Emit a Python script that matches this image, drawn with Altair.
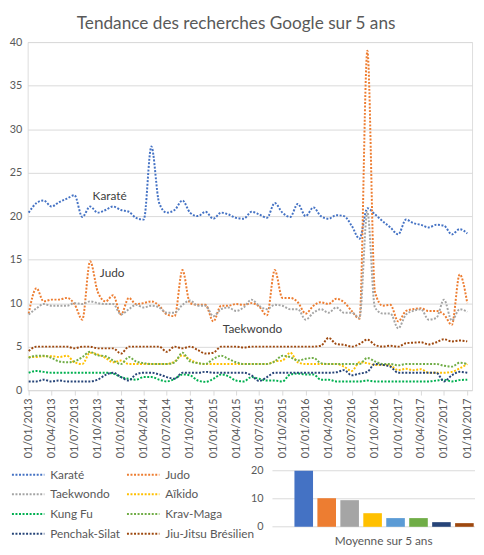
import altair as alt
import pandas as pd

# ---------------- data ----------------
SERIES = ["Karaté", "Judo", "Taekwondo", "Aïkido", "Kung Fu", "Krav-Maga",
          "Penchak-Silat", "Jiu-Jitsu Brésilien"]
COLORS = ["#4472C4", "#ED7D31", "#A5A5A5", "#FFC000", "#00B050", "#70AD47",
          "#264478", "#9E480E"]

# monthly points, January 2013 .. October 2017 (58 months)
DATES = [f"{2013 + m // 12}/{m % 12 + 1:02d}/01" for m in range(58)]

KARATE = [20.4, 21.5, 21.8, 21.1, 21.6, 22.0, 22.4, 19.9, 21.1, 20.4, 20.7, 21.1,
          20.7, 20.5, 19.8, 19.6, 28.0, 21.5, 20.4, 20.7, 21.8, 20.4, 20.0, 20.5,
          19.7, 20.4, 20.2, 19.8, 19.7, 20.5, 20.2, 19.8, 21.5, 20.4, 19.9, 21.4,
          20.0, 21.0, 20.0, 19.7, 20.1, 20.0, 18.9, 17.4, 20.9, 20.2, 19.4, 18.7,
          17.9, 19.6, 19.2, 19.0, 18.7, 19.0, 18.9, 17.9, 18.5, 18.0]
JUDO = [8.8, 11.7, 10.2, 10.4, 10.4, 10.6, 9.9, 8.1, 14.8, 11.3, 10.2, 10.9,
        8.7, 10.6, 9.9, 10.0, 10.2, 9.7, 8.7, 8.5, 13.8, 10.0, 9.8, 9.8,
        7.9, 9.7, 9.7, 9.9, 9.8, 10.0, 9.6, 8.6, 13.8, 10.6, 10.6, 10.1,
        8.8, 9.7, 10.1, 9.9, 10.5, 10.1, 9.1, 8.2, 39.0, 11.3, 9.7, 9.8,
        7.9, 9.1, 9.3, 9.4, 9.1, 9.1, 8.7, 7.5, 13.3, 10.0]
TAEKWONDO = [8.7, 9.4, 9.9, 9.7, 9.7, 9.7, 10.0, 9.9, 10.2, 10.0, 9.9, 9.9,
             8.7, 9.3, 9.8, 9.5, 9.7, 9.5, 8.9, 8.9, 9.8, 10.3, 9.7, 9.7,
             8.5, 9.3, 9.5, 9.1, 9.5, 10.4, 9.7, 9.3, 9.8, 9.7, 9.3, 9.3,
             8.1, 8.9, 9.3, 8.9, 9.5, 8.9, 8.9, 8.3, 20.5, 9.5, 8.8, 8.8,
             7.1, 8.7, 9.1, 9.3, 8.1, 8.3, 10.4, 8.0, 9.3, 9.0]
AIKIDO = [3.8, 3.8, 3.9, 3.9, 3.8, 3.95, 3.2, 3.0, 4.3, 4.1, 3.7, 3.2,
          3.4, 3.0, 3.0, 3.0, 3.0, 3.0, 3.0, 3.3, 4.0, 3.5, 3.1, 3.0,
          3.0, 3.0, 3.0, 3.0, 3.0, 3.0, 3.0, 3.0, 3.3, 3.4, 4.3, 3.2,
          3.0, 3.0, 3.0, 3.0, 3.0, 2.7, 2.2, 3.2, 3.1, 2.9, 2.9, 2.8,
          2.3, 2.45, 2.3, 2.4, 2.0, 2.0, 2.0, 2.1, 2.5, 3.0]
KUNGFU = [2.0, 2.2, 2.1, 2.0, 2.0, 2.0, 2.0, 2.0, 2.0, 2.0, 2.0, 1.9,
          1.5, 1.3, 1.2, 1.5, 1.5, 1.2, 1.0, 1.3, 1.8, 1.7, 1.1, 0.95,
          1.3, 1.8, 1.6, 1.1, 1.0, 1.5, 1.3, 1.1, 1.1, 1.0, 1.8, 1.9,
          1.8, 1.8, 1.2, 1.2, 1.0, 1.0, 1.0, 1.0, 1.1, 1.0, 1.0, 1.0,
          1.0, 1.0, 1.0, 1.0, 1.0, 1.1, 1.2, 1.0, 1.15, 1.2]
KRAVMAGA = [3.7, 3.95, 3.95, 3.7, 3.3, 3.2, 3.3, 3.8, 4.4, 4.0, 3.9, 3.4,
            3.0, 3.8, 3.3, 3.1, 3.0, 3.0, 3.0, 3.2, 4.3, 3.3, 3.1, 3.0,
            3.6, 3.95, 3.6, 3.2, 3.0, 3.0, 3.0, 3.0, 3.3, 3.95, 3.8, 3.4,
            3.6, 3.7, 3.1, 3.0, 3.0, 3.0, 3.0, 3.0, 3.7, 3.3, 3.0, 3.0,
            2.85, 3.0, 3.0, 3.0, 3.0, 3.0, 2.8, 2.7, 3.15, 3.0]
PENCHAK = [1.0, 1.0, 1.2, 1.0, 1.1, 1.0, 1.0, 1.0, 1.0, 1.2, 1.75, 2.0,
           1.5, 1.1, 1.8, 2.0, 2.0, 1.8, 1.5, 1.3, 2.0, 2.0, 2.0, 2.1,
           2.0, 2.0, 2.0, 2.0, 2.0, 1.7, 1.05, 1.5, 2.0, 2.0, 2.0, 2.0,
           2.0, 2.0, 2.0, 2.0, 2.05, 2.3, 1.7, 1.9, 2.1, 3.0, 2.9, 2.7,
           2.0, 2.0, 2.0, 2.0, 2.0, 2.0, 1.0, 1.7, 2.1, 2.0]
JJB = [4.5, 5.0, 5.0, 5.0, 5.0, 5.0, 4.8, 5.0, 5.0, 4.8, 4.8, 4.8,
       4.2, 5.0, 5.0, 5.0, 5.0, 5.0, 4.4, 5.0, 4.8, 5.0, 4.6, 4.2,
       4.3, 5.0, 5.0, 5.0, 4.9, 5.0, 5.0, 5.0, 5.0, 5.0, 5.0, 5.0,
       5.0, 5.0, 5.1, 6.0, 5.3, 5.2, 5.0, 5.3, 5.8, 5.2, 5.0, 5.1,
       5.0, 5.4, 5.45, 5.5, 5.25, 5.5, 5.85, 5.6, 5.7, 5.6]

VALUES = [KARATE, JUDO, TAEKWONDO, AIKIDO, KUNGFU, KRAVMAGA, PENCHAK, JJB]

# series name labels placed in the plot
LABEL_NAMES = ["Karaté", "Judo", "Taekwondo"]
LABEL_DATES = ["2013/11/17", "2013/11/27", "2015/06/05"]
LABEL_VALUES = [22.3, 13.5, 7.0]

Y_TICKS = [0, 5, 10, 15, 20, 25, 30, 35, 40]
# quarterly ticks 01/01/2013 .. 01/10/2017
X_TICK_DATES = [(2013 + q // 4, (q % 4) * 3 + 1) for q in range(20)]

# small "Moyenne sur 5 ans" bar chart
BAR_CATS = ["Karaté", "Judo", "Taekwondo", "Jiu-Jitsu Brésilien", "Aïkido",
            "Krav-Maga", "Penchak-Silat", "Kung Fu"]
BAR_VALUES = [20.0, 10.2, 9.5, 4.85, 3.1, 3.1, 1.65, 1.3]
BAR_COLORS = ["#4472C4", "#ED7D31", "#A5A5A5", "#FFC000", "#5B9BD5", "#70AD47",
              "#264478", "#9E480E"]
BAR_TICKS = [0, 10, 20]
BAR_TITLE = "Moyenne sur 5 ans"

TITLE = "Tendance des recherches Google sur 5 ans"

# ---------------- tables ----------------
rows = []
for name, vals in zip(SERIES, VALUES):
    for d, v in zip(DATES, vals):
        rows.append({"series": name, "date": d, "value": v})
df = pd.DataFrame(rows)
lab_df = pd.DataFrame({"name": LABEL_NAMES, "date": LABEL_DATES, "value": LABEL_VALUES})
leg_df = pd.DataFrame({"series": SERIES,
                       "col": [i % 2 for i in range(len(SERIES))],
                       "row": [i // 2 for i in range(len(SERIES))]})
bar_df = pd.DataFrame({"cat": BAR_CATS, "mean": BAR_VALUES})
btick_df = pd.DataFrame({"tick": BAR_TICKS})
btitle_df = pd.DataFrame({"t": [BAR_TITLE]})

FONT = "Lato"
GRID = "#D9D9D9"
TXT = "#595959"

W, H = 452, 354
DASH = [2, 1.6]

xscale = alt.Scale(domain=[alt.DateTime(year=2012, month=12, date=28),
                           alt.DateTime(year=2017, month=10, date=20)])
yscale = alt.Scale(domain=[0, 40])
cscale = alt.Scale(domain=SERIES, range=COLORS)

x_axis = alt.Axis(values=[alt.DateTime(year=y, month=m, date=1) for y, m in X_TICK_DATES],
                  format="%d/%m/%Y", labelAngle=270, grid=False,
                  domainColor=GRID, tickColor=GRID, tickSize=5,
                  labelPadding=3, labelFont=FONT, labelFontSize=11,
                  labelColor=TXT, labelOverlap=False, title=None)
y_axis = alt.Axis(values=Y_TICKS, grid=True, gridColor=GRID, domain=False,
                  ticks=False, labelPadding=6, labelFont=FONT,
                  labelFontSize=11, labelColor=TXT, title=None)

lines = alt.Chart(df).mark_line(strokeWidth=2, strokeDash=DASH,
                                interpolate="monotone").encode(
    x=alt.X("date:T", scale=xscale, axis=x_axis),
    y=alt.Y("value:Q", scale=yscale, axis=y_axis),
    color=alt.Color("series:N", scale=cscale, legend=None),
    order=alt.Order("date:T"),
)

labels = alt.Chart(lab_df).mark_text(font=FONT, fontSize=12, color="#404040",
                                     align="center", baseline="middle").encode(
    x=alt.X("date:T", scale=xscale, axis=x_axis),
    y=alt.Y("value:Q", scale=yscale, axis=y_axis),
    text="name:N",
)

main = alt.layer(lines, labels)

# legend drawn below the axis
leg_x = alt.Scale(domain=[0, 1], range=[-16, 101])
leg_y = alt.Scale(domain=[0, 3], range=[440, 500])
leg_rule = alt.Chart(leg_df).transform_calculate(
    col_end="datum.col + 33/117"
).mark_rule(strokeWidth=2, strokeDash=DASH).encode(
    x=alt.X("col:Q", scale=leg_x, axis=None),
    x2="col_end:Q",
    y=alt.Y("row:Q", scale=leg_y, axis=None),
    color=alt.Color("series:N", scale=cscale, legend=None),
)
leg_text = alt.Chart(leg_df).mark_text(align="left", baseline="middle", dx=39,
                                       font=FONT, fontSize=12, color=TXT).encode(
    x=alt.X("col:Q", scale=leg_x, axis=None),
    y=alt.Y("row:Q", scale=leg_y, axis=None),
    text="series:N",
)
legend = alt.layer(leg_rule, leg_text)

# bar chart of means
bx = alt.Scale(domain=BAR_CATS, range=[269, 456], paddingInner=0.19, paddingOuter=0.1)
by = alt.Scale(domain=[0, 20], range=[493, 436])
bgrid = alt.Chart(btick_df).mark_rule(color=GRID, strokeWidth=1).encode(
    y=alt.Y("tick:Q", scale=by, axis=None),
    x=alt.value(249), x2=alt.value(455),
)
btext = alt.Chart(btick_df).mark_text(align="right", baseline="middle", font=FONT,
                                      fontSize=11, color=TXT).encode(
    y=alt.Y("tick:Q", scale=by, axis=None),
    x=alt.value(240),
    text="tick:Q",
)
bars = alt.Chart(bar_df).mark_bar().encode(
    x=alt.X("cat:N", scale=bx, axis=None, sort=None),
    y=alt.Y("mean:Q", scale=by, axis=None),
    color=alt.Color("cat:N", scale=alt.Scale(domain=BAR_CATS, range=BAR_COLORS), legend=None),
)
btitle = alt.Chart(btitle_df).mark_text(font=FONT, fontSize=12, color=TXT,
                                        align="center", baseline="middle").encode(
    x=alt.value(362), y=alt.value(508), text="t:N",
)
barchart = alt.layer(bgrid, btext, bars, btitle)

chart = alt.layer(main, legend, barchart).resolve_scale(
    x="independent", y="independent", color="independent"
).properties(
    width=W, height=H,
    padding={"left": 20, "top": 30, "right": 4, "bottom": 161},
    autosize=alt.AutoSizeParams(type="none"),
    title=alt.TitleParams(TITLE, font=FONT, fontSize=17.5, fontWeight="normal",
                          color=TXT, anchor="middle", dx=-14, offset=4),
).configure_view(stroke=None).configure(font=FONT)

chart.save("out.html", embed_options={"renderer": "svg", "actions": False})
